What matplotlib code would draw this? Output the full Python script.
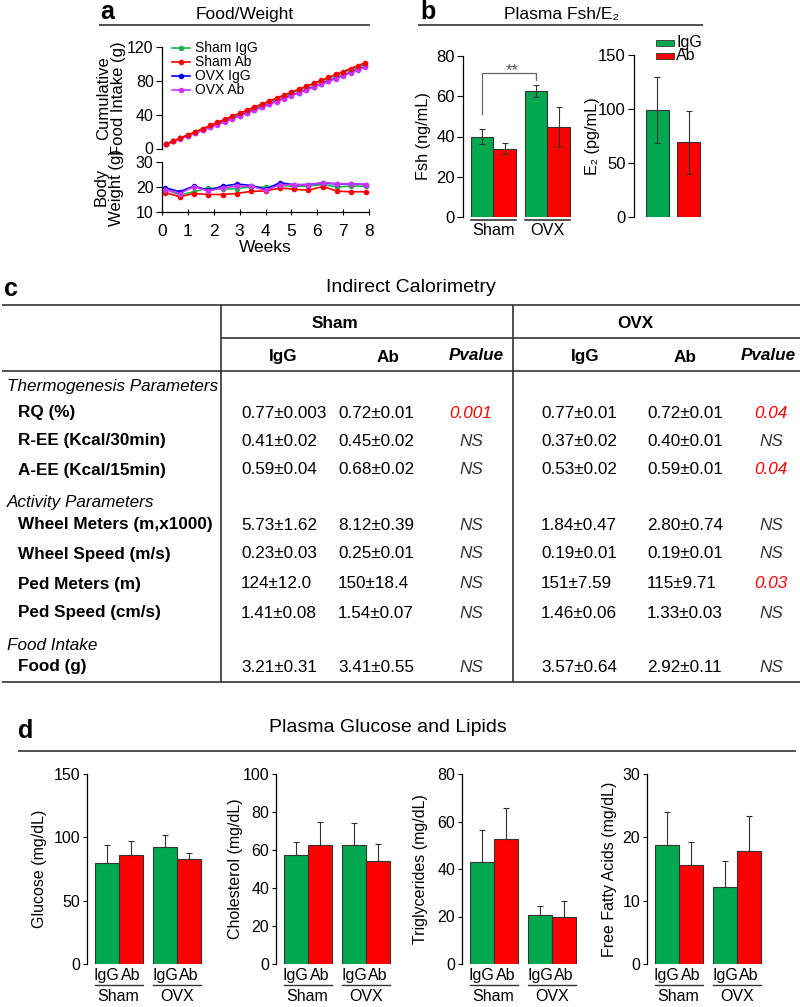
import matplotlib
matplotlib.use('Agg')
import matplotlib.pyplot as plt
from matplotlib.lines import Line2D
from matplotlib.patches import Rectangle

plt.rcParams['font.family'] = ['Liberation Sans', 'DejaVu Sans']
plt.rcParams['axes.linewidth'] = 0.9

W, H = 800, 1007

# ---------------- data ----------------
# panel a: cumulative food intake
weeks_food = [0.14, 0.43, 0.71, 1.00, 1.29, 1.57, 1.86, 2.14, 2.43, 2.71, 3.00, 3.29, 3.57, 3.86,
              4.14, 4.43, 4.71, 5.00, 5.29, 5.57, 5.86, 6.14, 6.43, 6.71, 7.00, 7.29, 7.57, 7.86]
food_sham_igg = [5.0, 8.6, 12.3, 15.9, 19.5, 23.1, 26.7, 30.3, 33.9, 37.5, 41.1, 44.6, 48.1, 51.6,
                 55.1, 58.6, 62.1, 65.6, 69.1, 72.6, 76.1, 79.5, 82.9, 86.3, 89.7, 93.1, 96.5, 99.9]
food_sham_ab = [5.0, 8.7, 12.4, 16.1, 19.8, 23.5, 27.2, 30.9, 34.5, 38.1, 41.7, 45.3, 48.9, 52.5,
                56.0, 59.5, 63.0, 66.5, 70.0, 73.5, 77.0, 80.5, 84.0, 87.5, 91.0, 94.5, 98.0, 101.5]
food_ovx_igg = [5.0, 8.4, 11.9, 15.3, 18.6, 22.0, 25.3, 28.7, 32.1, 35.5, 38.9, 42.3, 45.8, 49.2,
                52.6, 56.0, 59.4, 62.8, 66.2, 69.6, 73.1, 76.5, 79.9, 83.3, 86.7, 90.1, 93.5, 97.0]
food_ovx_ab = [5.0, 8.3, 11.7, 15.0, 18.3, 21.6, 25.0, 28.3, 31.7, 35.1, 38.5, 41.9, 45.3, 48.7,
               52.1, 55.5, 58.9, 62.3, 65.7, 69.1, 72.5, 75.9, 79.3, 82.7, 86.1, 89.5, 92.9, 96.2]

# panel a: body weight
weeks_bw = [0.13, 0.68, 1.24, 1.79, 2.34, 2.90, 3.45, 4.00, 4.56, 5.11, 5.66, 6.22, 6.77, 7.32, 7.88]
bw_sham_igg = [19.1, 16.8, 18.1, 19.7, 19.1, 19.4, 20.0, 20.0, 20.6, 20.3, 20.4, 21.0, 20.0, 20.4, 20.3]
bw_sham_ab = [17.8, 16.1, 17.4, 17.0, 17.0, 17.4, 18.3, 18.4, 19.6, 19.1, 18.7, 20.2, 18.3, 18.1, 18.1]
bw_ovx_igg = [19.7, 18.1, 20.4, 18.7, 20.3, 21.2, 20.6, 19.1, 21.7, 20.9, 21.0, 21.6, 21.2, 21.3, 21.0]
bw_ovx_ab = [19.0, 17.4, 20.2, 18.4, 19.7, 20.3, 20.3, 18.7, 20.9, 20.9, 20.9, 21.8, 21.3, 21.3, 21.0]

# panel b
groups = ['Sham', 'OVX']
fsh_igg = [40.0, 62.5]
fsh_igg_err = [3.6, 3.0]
fsh_ab = [34.0, 44.8]
fsh_ab_err = [2.8, 10.0]
e2_vals = [99.0, 69.0]
e2_err = [30.5, 29.0]

# panel c table
section_titles = ['Thermogenesis Parameters', 'Activity Parameters', 'Food Intake']
row_labels = ['RQ (%)', 'R-EE (Kcal/30min)', 'A-EE (Kcal/15min)', 'Wheel Meters (m,x1000)',
              'Wheel Speed (m/s)', 'Ped Meters (m)', 'Ped Speed (cm/s)', 'Food (g)']
sham_igg = ['0.77±0.003', '0.41±0.02', '0.59±0.04', '5.73±1.62', '0.23±0.03', '124±12.0', '1.41±0.08', '3.21±0.31']
sham_ab = ['0.72±0.01', '0.45±0.02', '0.68±0.02', '8.12±0.39', '0.25±0.01', '150±18.4', '1.54±0.07', '3.41±0.55']
sham_p = ['0.001', 'NS', 'NS', 'NS', 'NS', 'NS', 'NS', 'NS']
ovx_igg = ['0.77±0.01', '0.37±0.02', '0.53±0.02', '1.84±0.47', '0.19±0.01', '151±7.59', '1.46±0.06', '3.57±0.64']
ovx_ab = ['0.72±0.01', '0.40±0.01', '0.59±0.01', '2.80±0.74', '0.19±0.01', '115±9.71', '1.33±0.03', '2.92±0.11']
ovx_p = ['0.04', 'NS', '0.04', 'NS', 'NS', '0.03', 'NS', 'NS']

# panel d
d_titles = ['Glucose (mg/dL)', 'Cholesterol (mg/dL)', 'Triglycerides (mg/dL)', 'Free Fatty Acids (mg/dL)']
d_igg = [[79.6, 92.3], [57.3, 62.4], [43.0, 20.5], [18.8, 12.1]]
d_igg_err = [[14.0, 9.7], [6.8, 11.6], [13.3, 4.1], [5.2, 4.2]]
d_ab = [[86.0, 82.8], [62.4, 54.0], [52.8, 19.7], [15.7, 17.8]]
d_ab_err = [[10.8, 4.7], [12.6, 9.3], [12.9, 6.7], [3.6, 5.5]]
d_ylim = [150, 100, 80, 30]
d_yticks = [[0, 50, 100, 150], [0, 20, 40, 60, 80, 100], [0, 20, 40, 60, 80], [0, 10, 20, 30]]

GREEN = '#00A84F'
RED = '#FF0000'
LGREEN = '#22B24C'
BLUE = '#0000FF'
MAG = '#CC33FF'
EDGE = '#333333'

fig = plt.figure(figsize=(W / 100, H / 100), dpi=100)


def add_ax(l, t, r, b):
    return fig.add_axes([l / W, 1 - b / H, (r - l) / W, (b - t) / H])


def set_ylab(ax, text, xright_px, l, r, fs, **kw):
    ax.set_ylabel(text, fontsize=fs, **kw)
    ax.yaxis.set_label_coords((xright_px - l) / (r - l), 0.5)


# overlay for decorations
ov = fig.add_axes([0, 0, 1, 1], zorder=10)
ov.set_xlim(0, W)
ov.set_ylim(H, 0)
ov.axis('off')
ov.patch.set_alpha(0)


def hline(x0, x1, y, lw=1.2, c=EDGE):
    ov.plot([x0, x1], [y, y], color=c, lw=lw, solid_capstyle='butt')


def vline(x, y0, y1, lw=1.2, c=EDGE):
    ov.plot([x, x], [y0, y1], color=c, lw=lw, solid_capstyle='butt')


# ---------------- panel a ----------------
ov.text(100, 12, 'a', fontsize=18, fontweight='bold', va='center', ha='left')
ov.text(245, 15, 'Food/Weight', fontsize=12.5, va='center', ha='center')
hline(99, 370, 25)

series_food = [(food_sham_igg, LGREEN, 'Sham IgG', 2), (food_sham_ab, RED, 'Sham Ab', 5),
               (food_ovx_igg, BLUE, 'OVX IgG', 3), (food_ovx_ab, MAG, 'OVX Ab', 4)]
axa1 = add_ax(162, 47, 369, 148.5)
for vals, c, lab, z in series_food:
    axa1.plot(weeks_food, vals, color=c, lw=1.2, marker='o', ms=3, zorder=z, clip_on=False)
axa1.set_xlim(0, 8)
axa1.set_ylim(0, 120)
axa1.set_yticks([0, 40, 80, 120])
axa1.set_xticks([])
for s in ['top', 'right', 'bottom']:
    axa1.spines[s].set_visible(False)
axa1.tick_params(axis='y', labelsize=11.5, length=4, pad=2)
set_ylab(axa1, 'Cumulative\nFood Intake (g)', 126, 162, 369, 12, linespacing=1.0)

axa2 = add_ax(162, 162, 369, 212)
series_bw = [(bw_sham_igg, LGREEN), (bw_sham_ab, RED), (bw_ovx_igg, BLUE), (bw_ovx_ab, MAG)]
for vals, c in series_bw:
    axa2.plot(weeks_bw, vals, color=c, lw=1.2, marker='o', ms=3)
axa2.set_xlim(0, 8)
axa2.set_ylim(10, 30)
axa2.set_yticks([10, 20, 30])
axa2.set_xticks(range(0, 9))
for s in ['top', 'right']:
    axa2.spines[s].set_visible(False)
axa2.tick_params(axis='y', labelsize=11.5, length=4, pad=2)
axa2.tick_params(axis='x', labelsize=12.5, length=4, direction='inout', pad=7)
axa2.set_xlabel('Weeks', fontsize=12.5, labelpad=0)
set_ylab(axa2, 'Body\nWeight (g)', 124, 162, 369, 12, linespacing=1.0)

# legend (manual)
for i, (vals, c, lab, z) in enumerate(series_food):
    y = 48 + i * 14
    ov.add_line(Line2D([172, 190], [y, y], color=c, lw=1.2))
    ov.plot([181], [y], marker='o', ms=3, color=c)
    ov.text(195, y, lab, fontsize=10, va='center', ha='left')

# ---------------- panel b ----------------
ov.text(420, 12, 'b', fontsize=18, fontweight='bold', va='center', ha='left')
ov.text(562, 15, 'Plasma Fsh/E₂', fontsize=12.5, va='center', ha='center')
hline(418, 703, 25)

bl, br, bt, bb = 463, 580, 56, 217
axb1 = add_ax(bl, bt, br, bb)
off = 0.2075
bw = 0.415
xs = [0, 1]
axb1.bar([x - off for x in xs], fsh_igg, bw, color=GREEN, edgecolor=EDGE, lw=0.8,
         yerr=fsh_igg_err, error_kw=dict(ecolor=EDGE, elinewidth=0.8, capsize=2, capthick=0.8))
axb1.bar([x + off for x in xs], fsh_ab, bw, color=RED, edgecolor=EDGE, lw=0.8,
         yerr=fsh_ab_err, error_kw=dict(ecolor=EDGE, elinewidth=0.8, capsize=2, capthick=0.8))
axb1.set_xlim(-0.559, 1.6)
axb1.set_ylim(0, 80)
axb1.set_yticks([0, 20, 40, 60, 80])
axb1.set_xticks([])
for s in ['top', 'right', 'bottom']:
    axb1.spines[s].set_visible(False)
axb1.tick_params(axis='y', labelsize=12, length=4, pad=2)
set_ylab(axb1, 'Fsh (ng/mL)', 431, bl, br, 11.7)
tr = axb1.get_xaxis_transform()
for x, g in zip(xs, groups):
    axb1.plot([x - off - bw / 2, x + off + bw / 2], [-0.019, -0.019], transform=tr, clip_on=False,
              color=EDGE, lw=1.2)
    axb1.text(x, -0.085, g, transform=tr, ha='center', va='center', fontsize=11.7)
# significance bracket
axb1.plot([xs[0] - off, xs[0] - off, xs[1] - off, xs[1] - off], [51.2, 71.7, 71.7, 68.1],
          color='#666666', lw=0.9)
axb1.text((xs[0] + xs[1]) / 2 - off + 0.05, 72.5, '**', ha='center', va='center', fontsize=12,
          color='#555555')

el, er, et, eb = 634, 712, 55, 217
axb2 = add_ax(el, et, er, eb)
axb2.bar([0, 1], e2_vals, 0.742, color=[GREEN, RED], edgecolor=EDGE, lw=0.8,
         yerr=e2_err, error_kw=dict(ecolor=EDGE, elinewidth=0.8, capsize=2, capthick=0.8))
axb2.set_xlim(-0.758, 1.758)
axb2.set_ylim(0, 150)
axb2.set_yticks([0, 50, 100, 150])
axb2.set_xticks([])
for s in ['top', 'right', 'bottom']:
    axb2.spines[s].set_visible(False)
axb2.tick_params(axis='y', labelsize=12, length=4, pad=2)
set_ylab(axb2, 'E₂ (pg/mL)', 600, el, er, 11.7)
# legend (manual)
for i, (lab, c) in enumerate([('IgG', GREEN), ('Ab', RED)]):
    y = 43 + i * 13
    ov.add_patch(Rectangle((656, y - 3), 18, 6, facecolor=c, edgecolor=EDGE, lw=0.6))
    ov.text(676, y, lab, fontsize=11.5, va='center', ha='left')

# ---------------- panel c (table) ----------------
ov.text(4, 289, 'c', fontsize=18, fontweight='bold', va='center', ha='left')
ov.text(411, 287, 'Indirect Calorimetry', fontsize=14, va='center', ha='center')
hline(2, 800, 305)
hline(221, 800, 338)
hline(2, 800, 371)
hline(2, 800, 682)
vline(221, 305, 682)
vline(513, 305, 682)

FS = 12.3
ov.text(335, 323, 'Sham', fontsize=FS, fontweight='bold', ha='center', va='center')
ov.text(635, 323, 'OVX', fontsize=FS, fontweight='bold', ha='center', va='center')
for x, lab in [(283, 'IgG'), (388, 'Ab'), (585, 'IgG'), (685, 'Ab')]:
    ov.text(x, 357, lab, fontsize=FS, fontweight='bold', ha='center', va='center')
for x in [476, 768]:
    ov.text(x, 356, 'Pvalue', fontsize=FS, fontweight='bold', style='italic', ha='center', va='center')

for lab, y in zip(section_titles, [387, 502, 645]):
    ov.text(7, y, lab, fontsize=FS, style='italic', ha='left', va='center')

row_y = [413, 441, 470, 525, 554, 584, 613, 667]
for i, y in enumerate(row_y):
    ov.text(18, y, row_labels[i], fontsize=FS, fontweight='bold', ha='left', va='center')
    ov.text(241, y, sham_igg[i], fontsize=FS, ha='left', va='center')
    ov.text(338, y, sham_ab[i], fontsize=FS, ha='left', va='center')
    ov.text(541, y, ovx_igg[i], fontsize=FS, ha='left', va='center')
    ov.text(647, y, ovx_ab[i], fontsize=FS, ha='left', va='center')
    for x, p in [(471, sham_p[i]), (771, ovx_p[i])]:
        ov.text(x, y, p, fontsize=FS, style='italic', ha='center', va='center',
                color=(EDGE if p == 'NS' else RED))

# ---------------- panel d ----------------
ov.text(18, 731, 'd', fontsize=18, fontweight='bold', va='center', ha='left')
ov.text(388, 728, 'Plasma Glucose and Lipids', fontsize=14, va='center', ha='center')
hline(18, 796, 751)

d_lefts = [87, 276, 462, 647]
d_labx = [47, 243, 428, 617]
dt, db = 774, 964
unit = 58.5
doff = 12 / unit
dbw = 24 / unit
for k in range(4):
    l = d_lefts[k]
    r = l + 120
    ax = add_ax(l, dt, r, db)
    ax.bar([x - doff for x in xs], d_igg[k], dbw, color=GREEN, edgecolor=EDGE, lw=0.8,
           yerr=[[0, 0], d_igg_err[k]], error_kw=dict(ecolor=EDGE, elinewidth=0.8, capsize=2, capthick=0.8))
    ax.bar([x + doff for x in xs], d_ab[k], dbw, color=RED, edgecolor=EDGE, lw=0.8,
           yerr=[[0, 0], d_ab_err[k]], error_kw=dict(ecolor=EDGE, elinewidth=0.8, capsize=2, capthick=0.8))
    ax.set_xlim(-31.5 / unit, (120 - 31.5) / unit)
    ax.set_ylim(0, d_ylim[k])
    ax.set_yticks(d_yticks[k])
    ax.set_xticks([xs[0] - doff, xs[0] + doff, xs[1] - doff, xs[1] + doff])
    ax.set_xticklabels(['IgG', 'Ab', 'IgG', 'Ab'])
    for s in ['top', 'right', 'bottom']:
        ax.spines[s].set_visible(False)
    ax.tick_params(axis='y', labelsize=11.5, length=3, pad=2)
    ax.tick_params(axis='x', labelsize=11.5, length=0, pad=3)
    set_ylab(ax, d_titles[k], d_labx[k], l, r, 11.5)
    trd = ax.get_xaxis_transform()
    for x, g in zip(xs, groups):
        ax.plot([x - doff - dbw / 2, x + doff + dbw / 2], [-0.11, -0.11], transform=trd,
                clip_on=False, color=EDGE, lw=1.0)
        ax.text(x, -0.172, g, transform=trd, ha='center', va='center', fontsize=11.5)

fig.savefig('out.png', dpi=100)
